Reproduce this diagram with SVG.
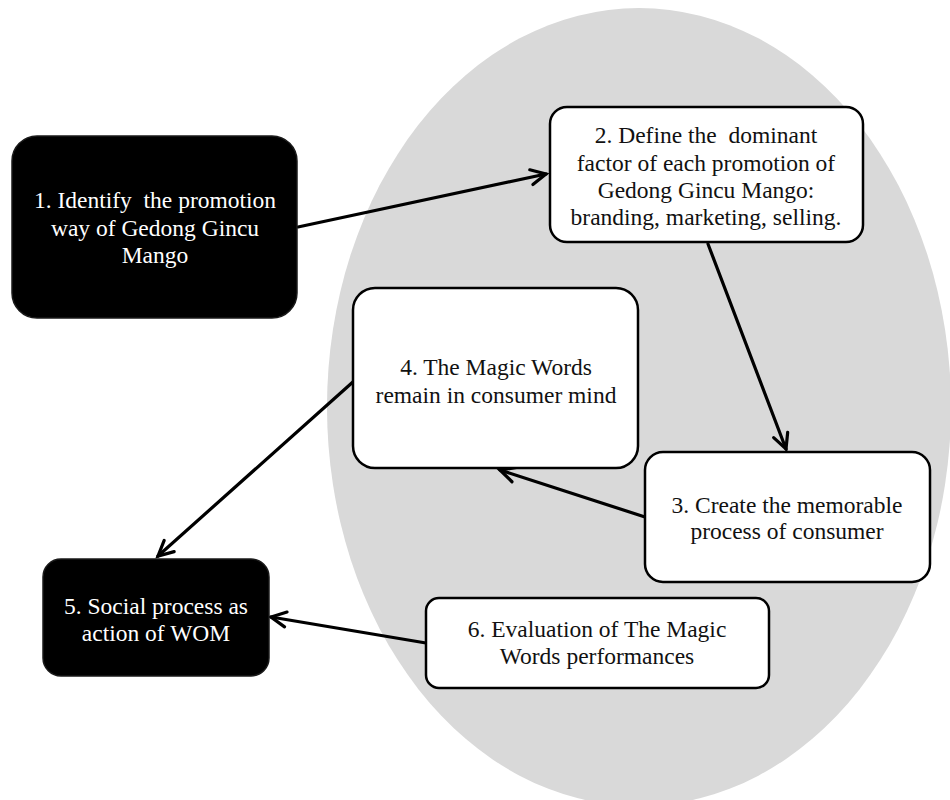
<svg xmlns="http://www.w3.org/2000/svg" width="950" height="800" viewBox="0 0 950 800">
  <style>
    .bg { fill: #ffffff; }
    .halo { fill: #d9d9d9; }
    .box-dark { fill: #000000; stroke: #1a1a1a; stroke-width: 1.5; }
    .box-light { fill: #ffffff; stroke: #000000; stroke-width: 2.5; }
    .label { font-family: "Liberation Serif", "Times New Roman", serif; font-size: 23.5px; text-anchor: middle; white-space: pre; }
    .label-dark { fill: #ffffff; }
    .label-light { fill: #111111; }
    .edge { fill: none; stroke: #000000; stroke-width: 3.2; stroke-linecap: round; }
  </style>
  <defs>
    <marker id="arrow-open" viewBox="-18 -10 22 20" refX="0" refY="0" markerWidth="22" markerHeight="20" markerUnits="userSpaceOnUse" orient="auto">
      <path d="M-15,-7.5 L0,0 L-15,7.5" fill="none" stroke="#000000" stroke-width="3.2" stroke-linecap="round" stroke-linejoin="miter"/>
    </marker>
  </defs>

  <rect class="bg" x="0" y="0" width="950" height="800"/>

  <!-- grey backdrop behind steps 2, 3, 4 and 6 -->
  <ellipse class="halo" cx="639" cy="407" rx="312" ry="399"/>

  <!-- connectors -->
  <g id="connectors">
    <line class="edge" x1="298" y1="227" x2="546" y2="174" marker-end="url(#arrow-open)"/>
    <line class="edge" x1="708" y1="244" x2="786" y2="449" marker-end="url(#arrow-open)"/>
    <line class="edge" x1="645" y1="517" x2="500" y2="470" marker-end="url(#arrow-open)"/>
    <line class="edge" x1="354" y1="381" x2="158" y2="556" marker-end="url(#arrow-open)"/>
    <line class="edge" x1="426" y1="643" x2="271" y2="617" marker-end="url(#arrow-open)"/>
  </g>

  <!-- step 1 -->
  <g id="node-1">
    <rect class="box-dark" x="12" y="136" width="285" height="182" rx="25" ry="25"/>
    <text class="label label-dark" x="155" y="208">1. Identify  the promotion</text>
    <text class="label label-dark" x="155" y="236">way of Gedong Gincu</text>
    <text class="label label-dark" x="155" y="263">Mango</text>
  </g>

  <!-- step 2 -->
  <g id="node-2">
    <rect class="box-light" x="550" y="107" width="313" height="135" rx="17" ry="17"/>
    <text class="label label-light" x="706" y="143">2. Define the  dominant</text>
    <text class="label label-light" x="706" y="171">factor of each promotion of</text>
    <text class="label label-light" x="706" y="198">Gedong Gincu Mango:</text>
    <text class="label label-light" x="706" y="225">branding, marketing, selling.</text>
  </g>

  <!-- step 3 -->
  <g id="node-3">
    <rect class="box-light" x="645" y="452" width="285" height="130" rx="18" ry="18"/>
    <text class="label label-light" x="787" y="513">3. Create the memorable</text>
    <text class="label label-light" x="787" y="539">process of consumer</text>
  </g>

  <!-- step 4 -->
  <g id="node-4">
    <rect class="box-light" x="353" y="288" width="285" height="180" rx="22" ry="22"/>
    <text class="label label-light" x="496" y="375">4. The Magic Words</text>
    <text class="label label-light" x="496" y="403">remain in consumer mind</text>
  </g>

  <!-- step 5 -->
  <g id="node-5">
    <rect class="box-dark" x="43" y="559" width="226" height="117" rx="18" ry="18"/>
    <text class="label label-dark" x="156" y="614">5. Social process as</text>
    <text class="label label-dark" x="156" y="641">action of WOM</text>
  </g>

  <!-- step 6 -->
  <g id="node-6">
    <rect class="box-light" x="426" y="598" width="343" height="90" rx="13" ry="13"/>
    <text class="label label-light" x="597" y="637">6. Evaluation of The Magic</text>
    <text class="label label-light" x="597" y="664">Words performances</text>
  </g>
</svg>
